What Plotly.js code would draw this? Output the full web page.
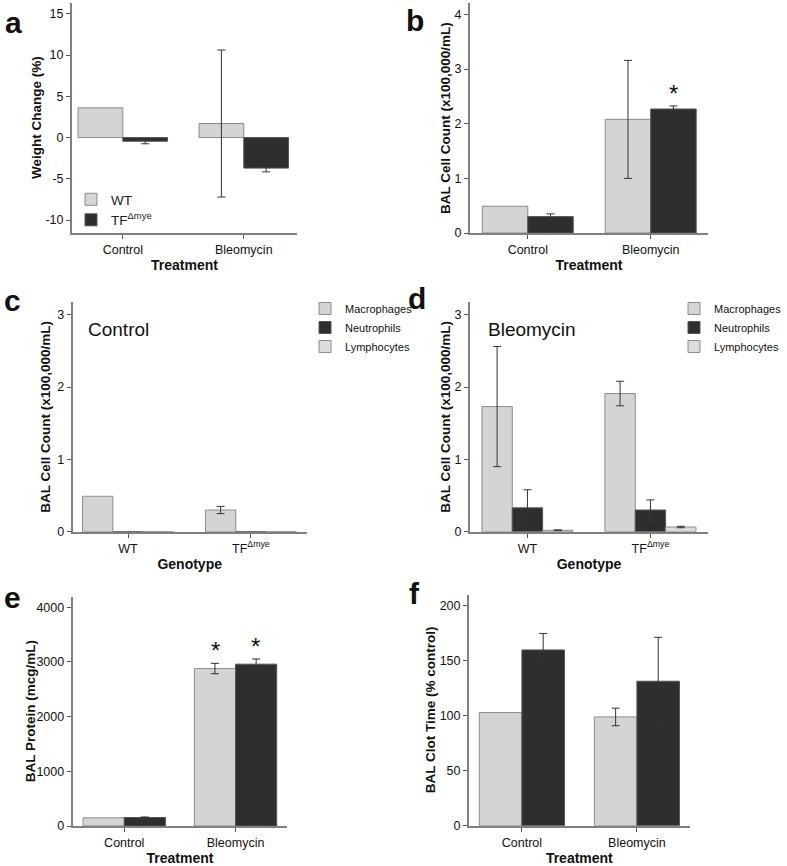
<!DOCTYPE html>
<html>
<head>
<meta charset="utf-8">
<script src="https://cdn.plot.ly/plotly-3.0.1.min.js"></script>
<style>
html, body { margin: 0; padding: 0; background: #fff; }
#chart { width: 787px; height: 866px; }
</style>
</head>
<body>
<div id="chart"></div>
<script>
var chartDiv = document.getElementById('chart');

// categories
var treatments = ['Control', 'Bleomycin'];
var genotypes = ['WT', 'TF<sup>Δmye</sup>'];
var groupNames = ['WT', 'TF<sup>Δmye</sup>'];
var cellTypes = ['Macrophages', 'Neutrophils', 'Lymphocytes'];

// a - weight change (%)
var weightWT = [3.6, 1.7];
var weightWTErr = [NaN, 8.9];
var weightTF = [-0.45, -3.7];
var weightTFErr = [0.3, 0.45];

// b - BAL cell count (x100,000/mL)
var cellsWT = [0.49, 2.08];
var cellsWTErr = [NaN, 1.08];
var cellsTF = [0.30, 2.27];
var cellsTFErr = [0.05, 0.055];

// c - differential counts, control
var ctrlMacro = [0.49, 0.30];
var ctrlMacroErr = [NaN, 0.05];
var ctrlNeutro = [0, 0];
var ctrlLympho = [0, 0];

// d - differential counts, bleomycin
var bleoMacro = [1.73, 1.91];
var bleoMacroErr = [0.83, 0.17];
var bleoNeutro = [0.33, 0.30];
var bleoNeutroErr = [0.25, 0.14];
var bleoLympho = [0.02, 0.065];
var bleoLymphoErr = [0.005, 0.01];

// e - BAL protein (mcg/mL)
var proteinWT = [150, 2880];
var proteinWTErr = [NaN, 95];
var proteinTF = [155, 2960];
var proteinTFErr = [10, 95];

// f - BAL clot time (% control)
var clotWT = [103, 99];
var clotWTErr = [NaN, 8];
var clotTF = [160, 131.5];
var clotTFErr = [15, 40];

var weightTicks = [-10, -5, 0, 5, 10, 15];
var weightTickText = ['-10', '-5', '0', '5', '10', '15'];

var light = '#d4d4d4';
var dark = '#2e2e2e';
var lighter = '#dcdcdc';
var font = 'Arial, "Liberation Sans", sans-serif';

function bar(x, y, err, color, name, n, legendId, show) {
  return {
    type: 'bar',
    x: x,
    y: y,
    name: name,
    xaxis: 'x' + (n === 1 ? '' : n),
    yaxis: 'y' + (n === 1 ? '' : n),
    legend: legendId || 'legend',
    showlegend: !!show,
    marker: {
      color: color,
      line: {color: color === dark ? '#555' : '#8c8c8c', width: 1}
    },
    error_y: {
      type: 'data',
      array: err || [],
      visible: !!err,
      color: '#333',
      thickness: 1,
      width: 4
    },
    hoverinfo: 'x+y+name'
  };
}

var data = [
  bar(treatments, weightWT, weightWTErr, light, groupNames[0], 1, 'legend', true),
  bar(treatments, weightTF, weightTFErr, dark, groupNames[1], 1, 'legend', true),
  bar(treatments, cellsWT, cellsWTErr, light, groupNames[0], 2),
  bar(treatments, cellsTF, cellsTFErr, dark, groupNames[1], 2),
  bar(genotypes, ctrlMacro, ctrlMacroErr, light, cellTypes[0], 3, 'legend2', true),
  bar(genotypes, ctrlNeutro, null, dark, cellTypes[1], 3, 'legend2', true),
  bar(genotypes, ctrlLympho, null, lighter, cellTypes[2], 3, 'legend2', true),
  bar(genotypes, bleoMacro, bleoMacroErr, light, cellTypes[0], 4, 'legend3', true),
  bar(genotypes, bleoNeutro, bleoNeutroErr, dark, cellTypes[1], 4, 'legend3', true),
  bar(genotypes, bleoLympho, bleoLymphoErr, lighter, cellTypes[2], 4, 'legend3', true),
  bar(treatments, proteinWT, proteinWTErr, light, groupNames[0], 5),
  bar(treatments, proteinTF, proteinTFErr, dark, groupNames[1], 5),
  bar(treatments, clotWT, clotWTErr, light, groupNames[0], 6),
  bar(treatments, clotTF, clotTFErr, dark, groupNames[1], 6)
];

// pixel boxes -> paper domains
var W = 787, H = 866;
function dx(l, r) { return [l / W, r / W]; }
function dy(t, b) { return [1 - b / H, 1 - t / H]; }

function xax(dom, anchor, title, range) {
  return {
    domain: dom, anchor: anchor, type: 'category', range: range,
    showline: true, linecolor: '#808080', linewidth: 2,
    ticks: 'outside', ticklen: 4, tickcolor: '#555', tickwidth: 1,
    showgrid: false, zeroline: false,
    tickfont: {family: font, size: 12.5, color: '#111'},
    title: {text: title, font: {family: font, size: 14, color: '#111', weight: 'bold'}, standoff: 4}
  };
}
function yax(dom, anchor, range) {
  return {
    domain: dom, anchor: anchor, range: range,
    showline: true, linecolor: '#808080', linewidth: 2,
    ticks: 'outside', ticklen: 4, tickcolor: '#555', tickwidth: 1,
    showgrid: false, zeroline: false,
    tickfont: {family: font, size: 12.5, color: '#111'}
  };
}

var cellTitle = 'BAL Cell Count (x100,000/mL)';

var layout = {
  width: W, height: H,
  margin: {l: 0, r: 0, t: 0, b: 0},
  paper_bgcolor: '#fff', plot_bgcolor: 'rgba(0,0,0,0)',
  barmode: 'group', bargap: 0.26, bargroupgap: 0,
  font: {family: font, color: '#111'},
  xaxis: xax(dx(72, 297), 'y', 'Treatment', [-0.42, 1.44]),
  yaxis: Object.assign(yax(dy(3, 233), 'x', [-11.56, 16.3]),
    {tickmode: 'array', tickvals: weightTicks, ticktext: weightTickText}),
  xaxis2: xax(dx(470, 708), 'y2', 'Treatment', [-0.47, 1.466]),
  yaxis2: Object.assign(yax(dy(3, 233), 'x2', [0, 4.21]), {dtick: 1}),
  xaxis3: xax(dx(72.7, 306.7), 'y3', 'Genotype', [-0.45, 1.454]),
  yaxis3: Object.assign(yax(dy(301.7, 531.7), 'x3', [0, 3.18]), {dtick: 1}),
  xaxis4: xax(dx(470, 708), 'y4', 'Genotype', [-0.467, 1.468]),
  yaxis4: Object.assign(yax(dy(301.7, 531.7), 'x4', [0, 3.18]), {dtick: 1}),
  xaxis5: xax(dx(72.7, 287.3), 'y5', 'Treatment', [-0.463, 1.465]),
  yaxis5: Object.assign(yax(dy(596.7, 826), 'x5', [0, 4194]), {dtick: 1000}),
  xaxis6: xax(dx(469, 689.7), 'y6', 'Treatment', [-0.46, 1.459]),
  yaxis6: Object.assign(yax(dy(595, 825.7), 'x6', [0, 210]), {dtick: 50}),
  legend: {
    x: 71 / W, y: 1 - 184 / H, xanchor: 'left', yanchor: 'top',
    bgcolor: 'rgba(0,0,0,0)', font: {family: font, size: 13.5, color: '#222'},
    tracegroupgap: 0, itemclick: false
  },
  legend2: {
    x: 305 / W, y: 1 - 294 / H, xanchor: 'left', yanchor: 'top',
    bgcolor: 'rgba(0,0,0,0)', font: {family: font, size: 11, color: '#111'},
    tracegroupgap: 0
  },
  legend3: {
    x: 1, y: 1 - 294 / H, xanchor: 'right', yanchor: 'top',
    bgcolor: 'rgba(0,0,0,0)', font: {family: font, size: 11, color: '#111'},
    tracegroupgap: 0
  },
  annotations: []
};

// y-axis titles, placed like the reference (rotated, beside the tick labels)
var yTitles = [
  ['Weight Change (%)', 37, 3, 233],
  [cellTitle, 446, 3, 233],
  [cellTitle, 46, 301.7, 531.7],
  [cellTitle, 446, 301.7, 531.7],
  ['BAL Protein (mcg/mL)', 30, 596.7, 826],
  ['BAL Clot Time (% control)', 430, 595, 825.7]
];
yTitles.forEach(function (t) {
  layout.annotations.push({
    text: t[0], textangle: -90, xref: 'paper', yref: 'paper',
    x: t[1] / W, y: 1 - (t[2] + t[3]) / 2 / H,
    xanchor: 'center', yanchor: 'middle', showarrow: false,
    font: {family: font, size: 13.5, color: '#111', weight: 'bold'}
  });
});

// panel letters
var letters = [['a', 3, 4], ['b', 404, 2], ['c', 2, 282], ['d', 406, 280], ['e', 2, 579], ['f', 407, 575]];
letters.forEach(function (l) {
  layout.annotations.push({
    text: l[0], xref: 'paper', yref: 'paper', x: l[1] / W, y: 1 - l[2] / H,
    xanchor: 'left', yanchor: 'top', showarrow: false,
    font: {family: font, size: 30, color: '#111', weight: 'bold'}
  });
});

// panel labels inside c and d
layout.annotations.push({
  text: 'Control', xref: 'x3 domain', yref: 'y3 domain', x: 0.057, y: 0.877,
  xanchor: 'left', yanchor: 'middle', showarrow: false,
  font: {family: font, size: 19, color: '#111'}
});
layout.annotations.push({
  text: 'Bleomycin', xref: 'x4 domain', yref: 'y4 domain', x: 0.066, y: 0.877,
  xanchor: 'left', yanchor: 'middle', showarrow: false,
  font: {family: font, size: 19, color: '#111'}
});

// significance marks above the error bars
function star(axN, cat, y, shift) {
  layout.annotations.push({
    text: '*', xref: 'x' + axN, yref: 'y' + axN, x: cat, y: y, xshift: shift,
    yanchor: 'bottom', yshift: -3, showarrow: false,
    font: {family: font, size: 24, color: '#111'}
  });
}
star(2, 'Bleomycin', cellsTF[1] + cellsTFErr[1], 23);
star(5, 'Bleomycin', proteinWT[1] + proteinWTErr[1], -20);
star(5, 'Bleomycin', proteinTF[1] + proteinTFErr[1], 20);

Plotly.newPlot(chartDiv, data, layout, {displayModeBar: false, responsive: false});
</script>
</body>
</html>
